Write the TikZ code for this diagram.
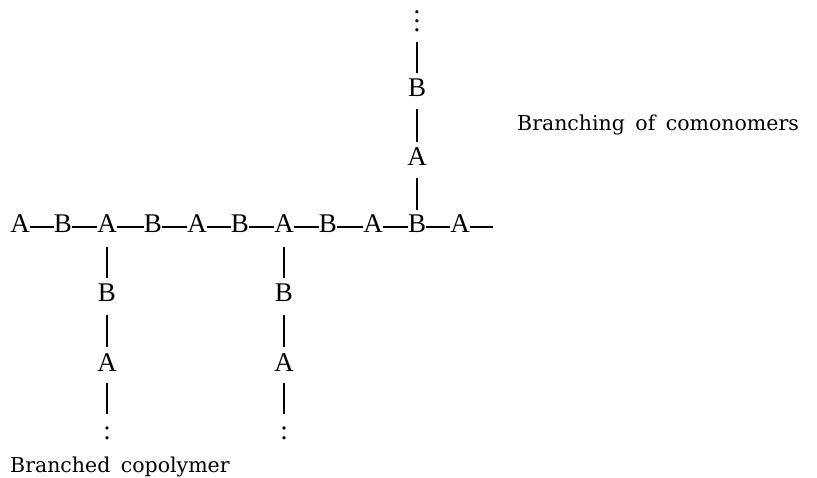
\documentclass[tikz,border=0pt]{standalone}
\usepackage{fontspec}
\setmainfont{Liberation Serif}
\newfontfamily\monofnt{Liberation Serif}
\newfontfamily\lblfnt[WordSpace=1.6]{DejaVu Serif}
\begin{document}
\begin{tikzpicture}[x=1pt,y=-1pt,
  mono/.style={font=\monofnt\fontsize{27}{30}\selectfont, inner sep=0pt, text height=18pt, text depth=0pt, anchor=base},
  dotsnode/.style={font=\monofnt\fontsize{27}{30}\selectfont, inner sep=0pt, anchor=base},
  lbl/.style={font=\lblfnt\fontsize{20.5}{24}\selectfont, inner sep=0pt, anchor=base west},
  bond/.style={line width=1.3pt, line cap=butt}]
\useasboundingbox (0,0) rectangle (817,478);
% main chain
\node[mono] (m1) at (20,233) {A};
\node[mono] (m2) at (63,233) {B};
\node[mono] (m3) at (107,233) {A};
\node[mono] (m4) at (153,233) {B};
\node[mono] (m5) at (197,233) {A};
\node[mono] (m6) at (240,233) {B};
\node[mono] (m7) at (284,233) {A};
\node[mono] (m8) at (328,233) {B};
\node[mono] (m9) at (373,233) {A};
\node[mono] (m10) at (417,233) {B};
\node[mono] (m11) at (460,233) {A};
\coordinate (tail) at (493,227);
\foreach \a/\b in {m1/m2,m2/m3,m3/m4,m4/m5,m5/m6,m6/m7,m7/m8,m8/m9,m9/m10,m10/m11}
  \draw[bond] ([yshift=6pt]\a.base east) -- ([yshift=6pt]\b.base west);
\draw[bond] ([yshift=6pt]m11.base east) -- (tail);
% upper branch
\node[dotsnode] (u1) at (417,31.5) {\vbox{\baselineskip=9pt\lineskiplimit=-20pt\hbox{.}\hbox{.}\hbox{.}}};
\node[mono] (u2) at (417,97) {B};
\node[mono] (u3) at (417,166) {A};
\draw[bond] ([yshift=-10pt]u1.south) -- ([yshift=6pt]u2.north);
\draw[bond] ([yshift=-12pt]u2.south) -- ([yshift=6pt]u3.north);
\draw[bond] ([yshift=-12pt]u3.south) -- ([yshift=5pt]m10.north);
% lower branches
\node[mono] (d1) at (107,302) {B};
\node[mono] (d2) at (107,371) {A};
\node[dotsnode] (d3) at (107,439) {:};
\node[mono] (e1) at (284,302) {B};
\node[mono] (e2) at (284,371) {A};
\node[dotsnode] (e3) at (284,439) {:};
\draw[bond] ([yshift=-14pt]m3.south) -- ([yshift=6pt]d1.north);
\draw[bond] ([yshift=-13pt]d1.south) -- ([yshift=6pt]d2.north);
\draw[bond] ([yshift=-12pt]d2.south) -- ([yshift=12pt]d3.north);
\draw[bond] ([yshift=-14pt]m7.south) -- ([yshift=6pt]e1.north);
\draw[bond] ([yshift=-13pt]e1.south) -- ([yshift=6pt]e2.north);
\draw[bond] ([yshift=-12pt]e2.south) -- ([yshift=12pt]e3.north);
% labels
\node[lbl] (l1) at (517,131) {Branching of comonomers};
\node[lbl] (l2) at (10,472) {Branched copolymer};
\end{tikzpicture}
\end{document}
